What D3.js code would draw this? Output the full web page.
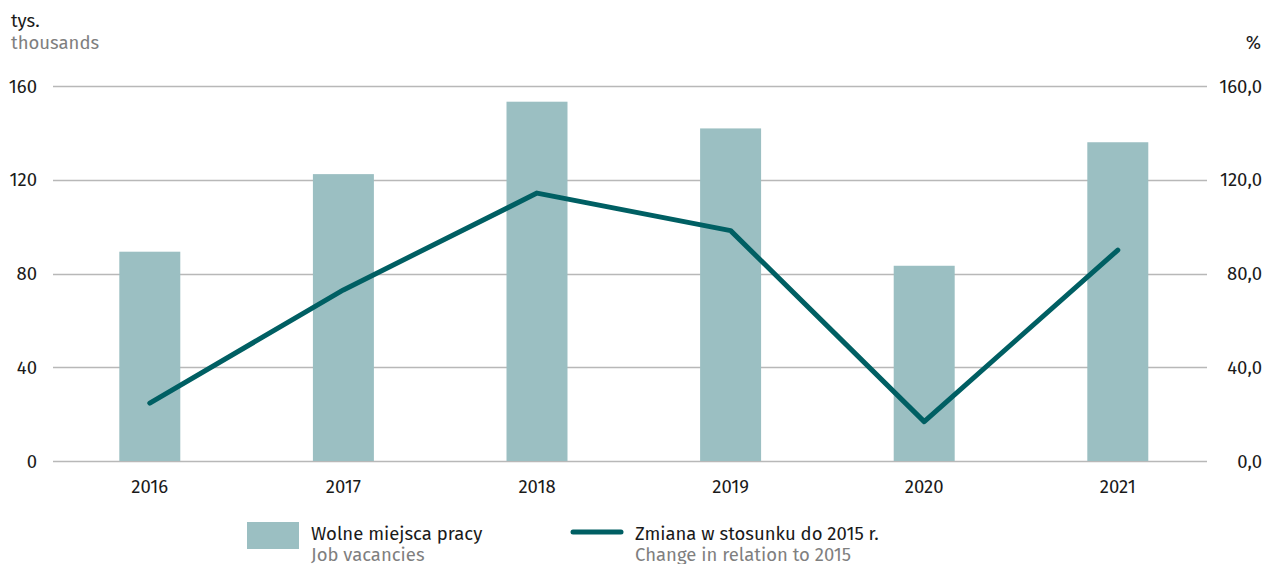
<!DOCTYPE html>
<html>
<head>
<meta charset="utf-8">
<style>
  body { margin: 0; background: #fff; }
  svg text { font-family: "Fira Sans", "Noto Sans", "Open Sans", sans-serif; }
</style>
</head>
<body>
<div id="chart"></div>
<script src="https://d3js.org/d3.v7.min.js"></script>
<script>
  var years = ["2016", "2017", "2018", "2019", "2020", "2021"];
  var vacancies = [89.3, 122.4, 153.3, 141.9, 83.3, 136.0];
  var change2015 = [24.7, 73.0, 114.3, 98.3, 16.8, 90.0];
  var leftTicks = [0, 40, 80, 120, 160];
  var rightTicks = [0, 40, 80, 120, 160];

  var W = 1263, H = 564;
  var x0 = 53, x1 = 1207, yTop = 86, yBase = 461;
  var fs = 18.5;

  var svg = d3.select("#chart").append("svg")
    .attr("width", W)
    .attr("height", H);

  var x = d3.scaleBand()
    .domain(years)
    .range([x0, x0 + 6 * 193.6])
    .paddingInner(0.685)
    .paddingOuter(0.3425);

  var yL = d3.scaleLinear().domain([0, 160]).range([yBase, yTop]);
  var yR = d3.scaleLinear().domain([0, 160]).range([yBase, yTop]);

  // gridlines
  svg.append("g")
    .selectAll("line")
    .data(leftTicks)
    .join("line")
    .attr("x1", x0)
    .attr("x2", x1)
    .attr("y1", function(d) { return Math.round(yL(d)) + 0.5; })
    .attr("y2", function(d) { return Math.round(yL(d)) + 0.5; })
    .attr("stroke", "#b8b8b8")
    .attr("stroke-width", 1.3);

  // left axis labels
  svg.append("g")
    .selectAll("text")
    .data(leftTicks)
    .join("text")
    .attr("x", 37)
    .attr("y", function(d) { return yL(d) + 6.5; })
    .attr("text-anchor", "end")
    .attr("font-size", fs)
    .attr("fill", "#1a1a1a")
    .text(function(d) { return d; });

  // right axis labels
  svg.append("g")
    .selectAll("text")
    .data(rightTicks)
    .join("text")
    .attr("x", 1262)
    .attr("y", function(d) { return yR(d) + 6.5; })
    .attr("text-anchor", "end")
    .attr("font-size", fs)
    .attr("fill", "#1a1a1a")
    .text(function(d) { return d3.format(".1f")(d).replace(".", ","); });

  // unit labels
  svg.append("text").attr("x", 11).attr("y", 27).attr("font-size", fs)
    .attr("fill", "#1a1a1a").text("tys.");
  svg.append("text").attr("x", 11).attr("y", 49).attr("font-size", fs)
    .attr("fill", "#7f7f7f").text("thousands");
  svg.append("text").attr("x", 1261).attr("y", 49).attr("font-size", fs)
    .attr("text-anchor", "end").attr("fill", "#1a1a1a").text("%");

  // bars
  svg.append("g")
    .selectAll("rect")
    .data(years)
    .join("rect")
    .attr("x", function(d) { return x(d); })
    .attr("width", x.bandwidth())
    .attr("y", function(d, i) { return yL(vacancies[i]); })
    .attr("height", function(d, i) { return yBase - yL(vacancies[i]); })
    .attr("fill", "#9bbfc2");

  // x labels
  svg.append("g")
    .selectAll("text")
    .data(years)
    .join("text")
    .attr("x", function(d) { return x(d) + x.bandwidth() / 2; })
    .attr("y", 493)
    .attr("text-anchor", "middle")
    .attr("font-size", fs)
    .attr("fill", "#1a1a1a")
    .text(function(d) { return d; });

  // line
  var line = d3.line()
    .x(function(d, i) { return x(years[i]) + x.bandwidth() / 2; })
    .y(function(d) { return yR(d); });

  svg.append("path")
    .datum(change2015)
    .attr("d", line)
    .attr("fill", "none")
    .attr("stroke", "#005f63")
    .attr("stroke-width", 5)
    .attr("stroke-linecap", "round")
    .attr("stroke-linejoin", "round");

  // legend
  var lg = svg.append("g");
  lg.append("rect").attr("x", 247).attr("y", 522).attr("width", 52).attr("height", 27)
    .attr("fill", "#9bbfc2");
  lg.append("text").attr("x", 311).attr("y", 540).attr("font-size", fs)
    .attr("fill", "#1a1a1a").text("Wolne miejsca pracy");
  lg.append("text").attr("x", 311).attr("y", 561).attr("font-size", fs)
    .attr("fill", "#7f7f7f").text("Job vacancies");

  lg.append("line").attr("x1", 573).attr("x2", 621).attr("y1", 532).attr("y2", 532)
    .attr("stroke", "#005f63").attr("stroke-width", 5).attr("stroke-linecap", "round");
  lg.append("text").attr("x", 635).attr("y", 540).attr("font-size", fs)
    .attr("fill", "#1a1a1a").text("Zmiana w stosunku do 2015 r.");
  lg.append("text").attr("x", 635).attr("y", 561).attr("font-size", fs)
    .attr("fill", "#7f7f7f").text("Change in relation to 2015");
</script>
</body>
</html>
